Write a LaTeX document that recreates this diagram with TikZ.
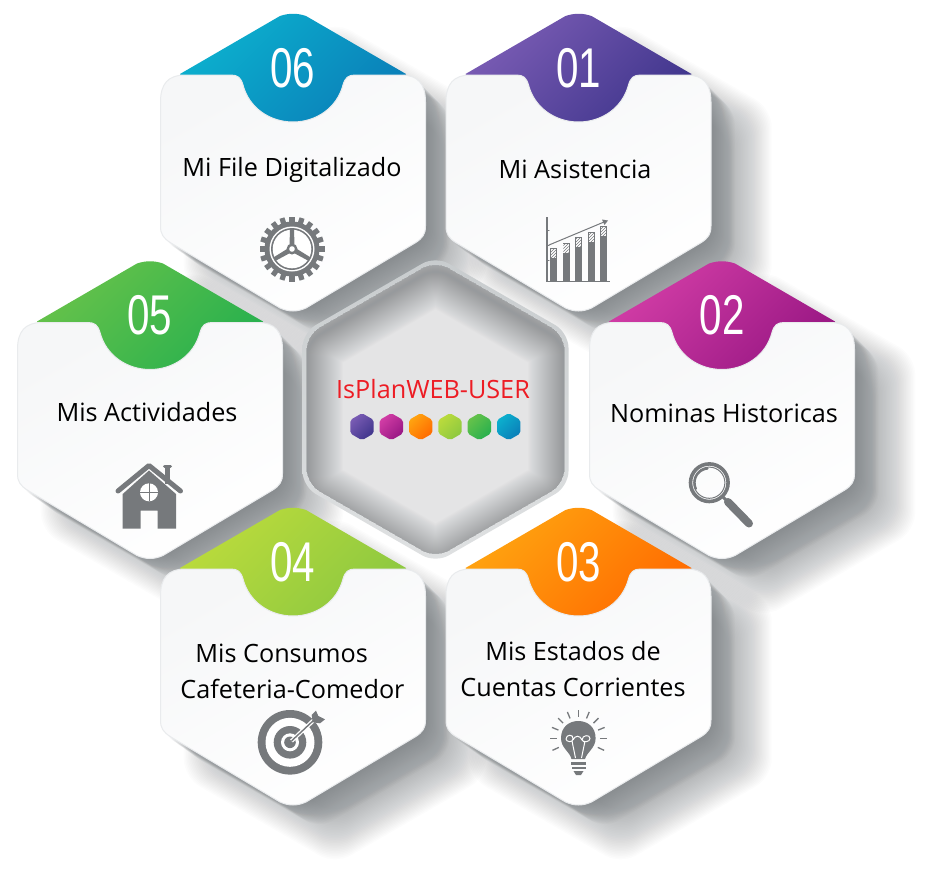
\documentclass[tikz,border=0pt]{standalone}
\usepackage{fontspec}
\usepackage{graphicx}
\usetikzlibrary{patterns}
\setmainfont{Open Sans}
\newfontfamily\numfont{Liberation Sans}
\definecolor{icongray}{HTML}{76797C}
\definecolor{shadowgray}{HTML}{6E7478}
\definecolor{cardA}{HTML}{F6F7F8}
\definecolor{cardB}{HTML}{FFFFFF}
\definecolor{cardedge}{HTML}{E9EBED}
\definecolor{ringA}{HTML}{C8CCCE}
\definecolor{ringB}{HTML}{DFE1E2}
\definecolor{titlered}{HTML}{ED1C24}
\definecolor{aA}{HTML}{7A5CB4}\definecolor{aB}{HTML}{3F358C}
\definecolor{bA}{HTML}{D23DA6}\definecolor{bB}{HTML}{981783}
\definecolor{cA}{HTML}{FFA410}\definecolor{cB}{HTML}{FF6A00}
\definecolor{dA}{HTML}{BBDB3C}\definecolor{dB}{HTML}{8CC840}
\definecolor{eA}{HTML}{66C24A}\definecolor{eB}{HTML}{27B04E}
\definecolor{fA}{HTML}{0CB0CE}\definecolor{fB}{HTML}{0A7EB8}
\newcommand{\hexpts}{(0,-153.5) -- (133,-76.8) -- (133,76.8) -- (0,153.5) -- (-133,76.8) -- (-133,-76.8) -- cycle}
\newcommand{\castshadow}[2]{%
  \foreach \t in {1,...,20}{%
    \fill[shadowgray,opacity=0.03,rounded corners=15pt,
      shift={({#1+\t*1.3},{#2+\t*1.1})},scale={1-\t*0.001}] \hexpts;}%
  \foreach \t in {1,...,32}{%
    \fill[shadowgray,opacity=0.02,rounded corners=18pt,
      shift={({#1+42},{#2+34})},scale={0.8+\t*0.0105}] \hexpts;}}
\newcommand{\hexcard}[6]{%
  \begin{scope}[shift={(#1,#2)}]
    \shade[top color=#4A,bottom color=#4B,shading angle=45]
      (-113,-88) -- (-13,-146) .. controls (-4,-149) and (4,-149) .. (13,-146)
      -- (113,-88) -- (60,-30) -- (-60,-30) -- cycle;
    \path[cardshape]
      (-132.5,-60) .. controls (-132.5,-78) and (-125,-87) .. (-108,-87)
      -- (-62,-87) .. controls (-55,-87) and (-52,-84) .. (-50,-77)
      .. controls (-44,-54) and (-23,-40) .. (0,-40)
      .. controls (23,-40) and (44,-54) .. (50,-77)
      .. controls (52,-84) and (55,-87) .. (62,-87)
      -- (108,-87) .. controls (125,-87) and (132.5,-78) .. (132.5,-60)
      -- (132.5,64) .. controls (132.5,72) and (130,76) .. (122,81)
      -- (13,146) .. controls (4,150) and (-4,150) .. (-13,146)
      -- (-122,81) .. controls (-130,76) and (-132.5,72) .. (-132.5,64) -- cycle;
    \node[numstyle] (n#3) at (0,-94) {\scalebox{0.72}[1]{#6}};
  \end{scope}}
\newcommand{\minihex}[3]{%
  \shade[top color=#3A,bottom color=#3B,shading angle=45,shift={(#1,#2)},scale=0.088,rounded corners=2pt] \hexpts;}
\tikzset{
  cardshape/.style={top color=cardA,bottom color=cardB,shading angle=30,draw=cardedge,line width=1pt},
  numstyle/.style={text=white,inner sep=0pt,font=\numfont\fontsize{56}{60}\selectfont},
  labelstyle/.style={text=black,inner sep=0pt,font=\fontsize{25.2}{36}\selectfont},
  iconfill/.style={fill=icongray,draw=none},
  iconline/.style={draw=icongray,line cap=round}
}
\begin{document}
\begin{tikzpicture}[x=1pt,y=-1pt]
\useasboundingbox (0,0) rectangle (935,884);
\fill[white] (0,0) rectangle (935,884);
% cast shadows
\castshadow{293}{162}
\castshadow{578.5}{162}
\castshadow{722}{409.5}
\castshadow{578.5}{656}
\castshadow{293}{656}
\castshadow{150}{409.5}
% centre hexagon
\shade[top color=ringA,bottom color=ringB,shift={(435.5,409.5)},rounded corners=15pt] \hexpts;
\begin{scope}[shift={(435.5,409.5)},scale=0.968]
  \fill[fill={rgb,255:red,228;green,228;blue,229},rounded corners=15pt] \hexpts;
  \begin{scope}
    \clip[rounded corners=15pt] \hexpts;
    \foreach \w in {2,4,...,72}{
      \draw[shadowgray!80!black,opacity=0.014,line width=\w pt,rounded corners=15pt,shift={(0,7)}] \hexpts;}
  \end{scope}
\end{scope}
% cards
\hexcard{293}{162}{06}{f}{f}{06}
\hexcard{578.5}{162}{01}{a}{a}{01}
\hexcard{722}{409.5}{02}{b}{b}{02}
\hexcard{578.5}{656}{03}{c}{c}{03}
\hexcard{293}{656}{04}{d}{d}{04}
\hexcard{150}{409.5}{05}{e}{e}{05}
% labels
\node[labelstyle] (t06) at (292,170) {Mi File Digitalizado};
\node[labelstyle] (t01) at (575,169) {Mi Asistencia};
\node[labelstyle] (t02) at (724,413) {Nominas Historicas};
\node[labelstyle,align=center] (t03) at (573,669) {Mis Estados de\\Cuentas Corrientes};
\node[labelstyle,align=left] (t04) at (292.5,671) {\hspace*{15pt}Mis Consumos\\Cafeteria-Comedor};
\node[labelstyle] (t05) at (147,412) {Mis Actividades};
\node[labelstyle,text=titlered] (title) at (433,389) {IsPlanWEB-USER};
% mini hexagons
\minihex{362}{426.7}{a}
\minihex{391.3}{426.7}{b}
\minihex{420.7}{426.7}{c}
\minihex{450}{426.7}{d}
\minihex{479.3}{426.7}{e}
\minihex{508.7}{426.7}{f}
% gear icon
\begin{scope}[shift={(292,249)}]
  \foreach \a in {0,18,...,342}{
    \fill[icongray,rotate=\a] (-2.6,-26) rectangle (2.6,-32.5);}
  \fill[icongray] (0,0) circle[radius=27.5pt];
  \fill[white] (0,0) circle[radius=22.5pt];
  \fill[icongray] (0,0) circle[radius=21pt];
  \fill[white] (0,0) circle[radius=19.3pt];
  \foreach \a in {0,120,240}{
    \fill[icongray,rotate=\a] (-2.6,0) -- (-2,-20) -- (2,-20) -- (2.6,0) -- cycle;}
  \fill[icongray] (0,0) circle[radius=5.5pt];
  \fill[white] (0,0) circle[radius=2.8pt];
\end{scope}
% chart icon
\draw[iconline,line width=1.6pt,line cap=butt] (546.7,217) -- (546.7,281.5) -- (610,281.5);
\foreach \yy in {230,245,260}{\draw[iconline,line width=1pt] (546.7,\yy) -- (549,\yy);}
\foreach \xa/\xb/\yt in {550/557/248,562.5/569.5/243,575/582/237,588/595/232,600/607/226}{
  \fill[icongray] (\xa,\yt) rectangle (\xb,281);
  \fill[white] (\xa+0.8,\yt+0.8) rectangle (\xb-0.8,\yt+10);
  \fill[pattern=north east lines,pattern color=icongray] (\xa+0.8,\yt+0.8) rectangle (\xb-0.8,\yt+10);}
\draw[iconline,line width=1pt] (549,245) -- (604,222);
\fill[icongray] (608,220.5) -- (602,219.5) -- (604.5,225) -- cycle;
% magnifier icon
\draw[icongray,line width=3.6pt] (709.3,482.7) circle[radius=18.8pt];
\draw[icongray,line width=1pt] (709.3,482.7) circle[radius=15.6pt];
\draw[icongray,line width=2.2pt,line cap=round] plot[smooth,domain=95:205,samples=14] ({708.8+14.2*cos(\x)},{482.7-14.2*sin(\x)});
\draw[icongray,line width=3pt] (722.5,496.5) -- (728,502);
\draw[icongray,line width=8pt,line cap=round] (728,502) -- (749,523.5);
% house icon
\draw[icongray,line width=5pt,line cap=round,line join=round] (118,491) -- (149,465.5) -- (180.5,491);
\fill[icongray] (165,468) rectangle (169.5,484);
\draw[icongray,line width=3pt,line cap=round] (164.5,466) -- (170.5,466);
\fill[icongray] (149,470.5) -- (176,494) -- (176,528.5) -- (157.7,528.5) -- (157.7,510.7) -- (140.7,510.7) -- (140.7,528.5) -- (122.7,528.5) -- (122.7,494) -- cycle;
\fill[white] (149,492.3) circle[radius=9pt];
\draw[icongray,line width=1pt] (149,483.3) -- (149,501.3) (140,492.3) -- (158,492.3);
% target icon
\fill[icongray] (290,742.3) circle[radius=32.3pt];
\fill[white] (290,742.3) circle[radius=24.5pt];
\fill[icongray] (290,742.3) circle[radius=16.3pt];
\fill[white] (290,742.3) circle[radius=9pt];
\fill[icongray] (290,742.3) circle[radius=5.8pt];
\draw[white,line width=4pt] (291.5,741) -- (315,719);
\draw[icongray,line width=1.4pt] (291.5,741) -- (315,719);
\fill[icongray] (311.7,715) -- (316,710.7) -- (318.3,716) -- (325,719.3) -- (320,723.3) -- (312.7,722.3) -- cycle;
% bulb icon
\foreach \a in {-25,0,22.5,45,67.5,90,112.5,135,157.5,180,205}{
  \draw[icongray,line width=1.3pt] ({578.3+21.5*cos(\a)},{738.3-21.5*sin(\a)}) -- ({578.3+28.5*cos(\a)},{738.3-28.5*sin(\a)});}
\fill[icongray] (571.5,759) .. controls (570,752) and (561,748) .. (561,738.3)
  .. controls (561,727) and (569,721) .. (578.3,721)
  .. controls (587.6,721) and (595.6,727) .. (595.6,738.3)
  .. controls (595.6,748) and (587,752) .. (585,759) -- cycle;
\draw[white,line width=1pt] (572,741) -- (575.5,758) (585,741) -- (581.5,758);
\draw[white,line width=1pt] (566,739) .. controls (566,734) and (574,734) .. (573,739) .. controls (573,743) and (566,742) .. (566,739)
  (573,740) .. controls (575,735) and (580,735) .. (582,740) (582,740) .. controls (582,735) and (590,734) .. (590,738.5) .. controls (590,742) and (583,743) .. (582,740);
\fill[icongray] (571,762) rectangle (586,764.5);
\fill[icongray] (571.5,766.5) rectangle (585.5,769);
\fill[icongray] (573.5,771) -- (583.5,771) -- (581,775) -- (576,775) -- cycle;
\end{tikzpicture}
\end{document}
